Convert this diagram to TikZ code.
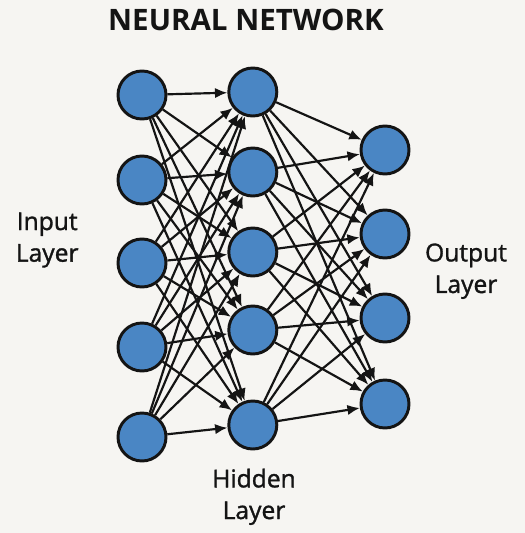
\documentclass[tikz,border=0pt]{standalone}
\usepackage{fontspec}
\setmainfont{Open Sans}
\newfontfamily\labelfont{Open Sans}[FakeBold=1.3]
\usetikzlibrary{arrows.meta}
\definecolor{paper}{HTML}{F6F5F2}
\definecolor{neuron}{HTML}{4A86C4}
\definecolor{ink}{HTML}{141414}

\begin{document}
\begin{tikzpicture}[x=1cm,y=1cm,>={Latex[length=3.1mm,width=2.6mm]},
      unit/.style={circle,draw=ink,fill=neuron,line width=2.1pt,minimum size=1.2cm,inner sep=0pt},
      link/.style={->,line width=1.55pt,draw=ink},
      layer/.style={align=center,font=\labelfont\fontsize{17.5}{22.5}\selectfont,text=ink}]
    \fill[paper] (0,0) rectangle (13.125,-13.325);
    \node[font=\fontsize{21}{25}\selectfont\bfseries,text=ink] (title) at (6.15,-0.5) {NEURAL NETWORK};
    % input layer
    \node[unit] (in1) at (3.55,-2.375) {};
    \node[unit] (in2) at (3.55,-4.5) {};
    \node[unit] (in3) at (3.55,-6.575) {};
    \node[unit] (in4) at (3.55,-8.675) {};
    \node[unit] (in5) at (3.55,-10.925) {};
    % hidden layer
    \node[unit] (hid1) at (6.32,-2.3) {};
    \node[unit] (hid2) at (6.32,-4.3) {};
    \node[unit] (hid3) at (6.32,-6.3) {};
    \node[unit] (hid4) at (6.32,-8.25) {};
    \node[unit] (hid5) at (6.32,-10.625) {};
    % output layer
    \node[unit] (out1) at (9.625,-3.75) {};
    \node[unit] (out2) at (9.625,-5.85) {};
    \node[unit] (out3) at (9.625,-7.95) {};
    \node[unit] (out4) at (9.625,-10.1) {};
    \foreach \i in {1,...,5}
      \foreach \j in {1,...,5}
        \draw[link] (in\i) -- (hid\j);
    \foreach \i in {1,...,5}
      \foreach \j in {1,...,4}
        \draw[link] (hid\i) -- (out\j);
    \node[layer] (inlab) at (1.18,-6.0) {Input\\Layer};
    \node[layer] (hidlab) at (6.35,-12.42) {Hidden\\Layer};
    \node[layer] (outlab) at (11.65,-6.78) {Output\\Layer};
\end{tikzpicture}
\end{document}
